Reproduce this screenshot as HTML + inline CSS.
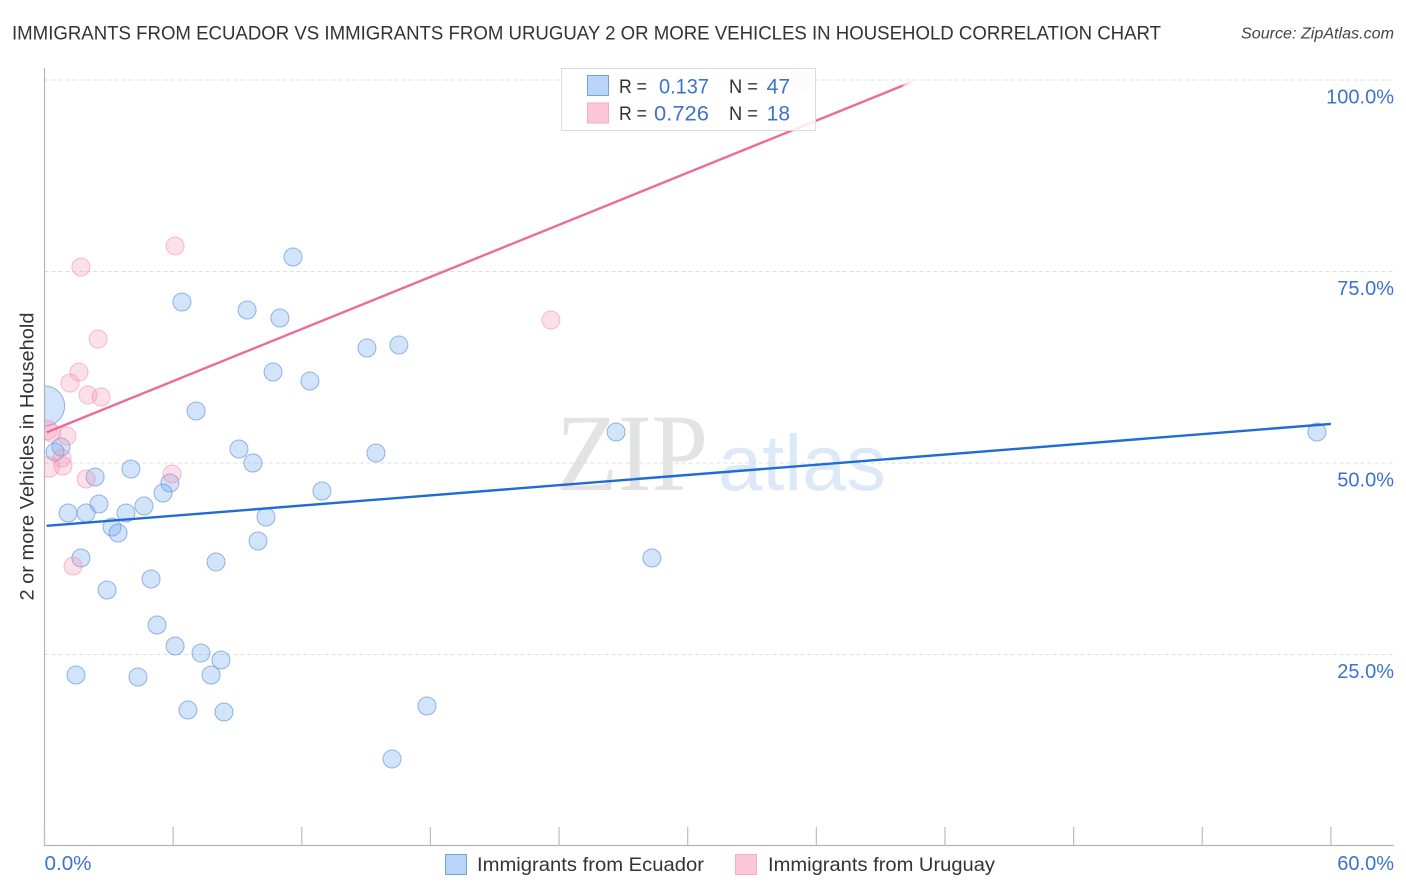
<!DOCTYPE html>
<html lang="en">
<head>
<meta charset="utf-8">
<title>Immigrants from Ecuador vs Immigrants from Uruguay correlation chart</title>
<style>
html,body{margin:0;padding:0;background:#fff;width:1406px;height:892px;overflow:hidden}
svg{display:block;font-family:"Liberation Sans",Arial,sans-serif}
</style>
</head>
<body>
<svg id="chart" xmlns="http://www.w3.org/2000/svg" width="1406" height="892" viewBox="0 0 1406 892">
  <defs>
    <clipPath id="plot-clip"><rect x="44.5" y="60" width="1350" height="786"/></clipPath>
    <linearGradient id="pink-fade" gradientUnits="userSpaceOnUse" x1="902" y1="0" x2="913" y2="0">
      <stop offset="0" stop-color="#ec6b9a" stop-opacity="1"/>
      <stop offset="0.15" stop-color="#ec6b9a" stop-opacity="0.45"/>
      <stop offset="1" stop-color="#ec6b9a" stop-opacity="0"/>
    </linearGradient>
  </defs>
  <rect width="1406" height="892" fill="#fff"/>
  <text x="12" y="39.5" font-size="19.5" fill="#333" textLength="1149" lengthAdjust="spacingAndGlyphs">IMMIGRANTS FROM ECUADOR VS IMMIGRANTS FROM URUGUAY 2 OR MORE VEHICLES IN HOUSEHOLD CORRELATION CHART</text>
  <text x="1241" y="38.5" font-size="15.5" font-style="italic" fill="#444" textLength="153" lengthAdjust="spacingAndGlyphs">Source: ZipAtlas.com</text>

  <g>
    <text x="556" y="490" font-family="'Liberation Serif',serif" font-size="110" fill="#e3e3e3" textLength="152" lengthAdjust="spacingAndGlyphs">ZIP</text>
    <text x="718" y="490" font-size="79" fill="#dde9f9" textLength="168" lengthAdjust="spacingAndGlyphs">atlas</text>
  </g>

  <g id="grid"></g>
  <g id="axes">
    <line x1="44.5" y1="68" x2="44.5" y2="846" stroke="#b4b4b4" stroke-width="1.2"/>
    <line x1="44" y1="845.5" x2="1394" y2="845.5" stroke="#b4b4b4" stroke-width="1.2"/>
  </g>
  <g id="x-ticks"></g>
  <g id="y-labels"></g>
  <g id="x-labels"></g>
  <text transform="translate(33.5,456.5) rotate(-90)" font-size="19" fill="#333" text-anchor="middle" textLength="288" lengthAdjust="spacingAndGlyphs">2 or more Vehicles in Household</text>

  <g clip-path="url(#plot-clip)">
    <g id="points-ecuador"></g>
    <g id="points-uruguay"></g>
    <g id="lines"></g>
  </g>

  <g>
    <rect x="561.5" y="68.5" width="254" height="62" fill="#fff" fill-opacity="0.85" stroke="#dcdcdc" stroke-width="1"/>
    <rect x="587.5" y="75.5" width="21" height="20" fill="#b9d4f6" stroke="#6fa3db" stroke-width="1"/>
    <rect x="587.5" y="103" width="21" height="20" fill="#fcc6d9" stroke="#f5aac5" stroke-width="1"/>
    <text x="619" y="93" font-size="19" fill="#333" textLength="28" lengthAdjust="spacingAndGlyphs">R =</text>
    <text x="659" y="93.5" font-size="21" fill="#3d72d0" textLength="50" lengthAdjust="spacingAndGlyphs">0.137</text>
    <text x="729" y="93" font-size="19" fill="#333" textLength="29" lengthAdjust="spacingAndGlyphs">N =</text>
    <text x="790" y="93.5" font-size="21" fill="#3d72d0" text-anchor="end">47</text>
    <text x="619" y="120" font-size="19" fill="#333" textLength="28" lengthAdjust="spacingAndGlyphs">R =</text>
    <text x="654" y="120.5" font-size="21" fill="#3d72d0" textLength="55" lengthAdjust="spacingAndGlyphs">0.726</text>
    <text x="729" y="120" font-size="19" fill="#333" textLength="29" lengthAdjust="spacingAndGlyphs">N =</text>
    <text x="790" y="120.5" font-size="21" fill="#3d72d0" text-anchor="end">18</text>
  </g>

  <g>
    <g>
      <rect x="445.5" y="854.5" width="21" height="20" fill="#b9d4f6" stroke="#6fa3db" stroke-width="1"/>
      <text x="477" y="871" font-size="19.5" fill="#333" textLength="227" lengthAdjust="spacingAndGlyphs">Immigrants from Ecuador</text>
    </g>
    <g>
      <rect x="735.5" y="854.5" width="21" height="20" fill="#fcc6d9" stroke="#f5aac5" stroke-width="1"/>
      <text x="768" y="871" font-size="19.5" fill="#333" textLength="227" lengthAdjust="spacingAndGlyphs">Immigrants from Uruguay</text>
    </g>
  </g>
</svg>
<script>
var xTickValues = [0, 6, 12, 18, 24, 30, 36, 42, 48, 54, 60];
var xTickLabels = ["0.0%", "60.0%"];
var yTickValues = [25, 50, 75, 100];
var yTickLabels = ["25.0%", "50.0%", "75.0%", "100.0%"];

var ecuadorX = [11.59, 6.41, 9.45, 10.98, 15.04, 16.53, 10.66, 12.38, 7.07, 15.46, 9.07, 9.72, 26.66, 59.35, 4.03, 2.36, 0.77, 0.49, 5.85, 5.53, 12.94, 4.64, 2.54, 1.10, 1.94, 3.80, 10.33, 3.15, 3.43, 9.96, 1.70, 8.00, 28.33, 4.97, 2.92, 5.25, 6.09, 7.30, 8.23, 7.77, 1.47, 4.36, 6.69, 8.37, 17.84, 16.21, 0.0];
var ecuadorY = [76.89, 71.02, 69.97, 68.93, 65.01, 65.40, 61.88, 60.70, 56.79, 51.31, 51.83, 50.0, 54.05, 54.05, 49.22, 48.17, 52.09, 51.44, 47.39, 46.08, 46.34, 44.39, 44.65, 43.47, 43.47, 43.47, 42.95, 41.64, 40.86, 39.82, 37.60, 37.08, 37.60, 34.86, 33.42, 28.85, 26.11, 25.20, 24.28, 22.32, 22.32, 22.06, 17.75, 17.49, 18.28, 11.36, 57.44];
var ecuadorWeight = [1, 1, 1, 1, 1, 1, 1, 1, 1, 1, 1, 1, 1, 1, 1, 1, 1, 1, 1, 1, 1, 1, 1, 1, 1, 1, 1, 1, 1, 1, 1, 1, 1, 1, 1, 1, 1, 1, 1, 1, 1, 1, 1, 1, 1, 1, 5];

var uruguayX = [35.28, 6.09, 1.70, 2.50, 23.62, 1.61, 1.19, 2.03, 2.64, 0.35, 0.12, 1.05, 0.82, 0.86, 0.21, 1.94, 5.95, 1.33];
var uruguayY = [100, 78.33, 75.59, 66.19, 68.67, 61.88, 60.44, 58.88, 58.62, 53.92, 54.31, 53.52, 50.65, 49.61, 49.48, 47.91, 48.56, 36.55];
var uruguayWeight = [1, 1, 1, 1, 1, 1, 1, 1, 1, 1, 1.2, 1, 1, 1, 1.3, 1, 1, 1];

var ecuadorTrendX = [0.1, 60];
var ecuadorTrendY = [41.8, 55.1];
var uruguayTrendX = [0.1, 40.5];
var uruguayTrendY = [54.0, 99.8];

var SVG_NS = "http://www.w3.org/2000/svg";
function xScale(v) { return 44.5 + v * 21.44; }
function yScale(v) { return 846 - v * 7.66; }
function rScale(w) { return 9 * Math.sqrt(w); }
function make(tag, attrs, parent) {
  var el = document.createElementNS(SVG_NS, tag);
  for (var k in attrs) el.setAttribute(k, attrs[k]);
  parent.appendChild(el);
  return el;
}

var grid = document.getElementById("grid");
yTickValues.forEach(function (v) {
  var el = make("line", { x1: 44.5, x2: 1394, y1: yScale(v), y2: yScale(v), stroke: "#dedede", "stroke-width": 1, "stroke-dasharray": "4 3" }, grid);
  
  
});

var xTicks = document.getElementById("x-ticks");
xTickValues.forEach(function (v) {
  var el = make("line", { x1: xScale(v), x2: xScale(v), y1: 827, y2: 846, stroke: "#bcbcbc", "stroke-width": 1.2 }, xTicks);
  
  
});

var yLabels = document.getElementById("y-labels");
yTickValues.forEach(function (v, i) {
  var el = make("text", { x: 1394, y: yScale(v) + 23.5, "font-size": 20, fill: "#3d72d0", "text-anchor": "end" }, yLabels);
  el.textContent = yTickLabels[i];
  
  
});

var xLabels = document.getElementById("x-labels");
var xLabelFirst = make("text", { x: xScale(xTickValues[0]), y: 870, "font-size": 20, fill: "#3d72d0", textLength: 47, lengthAdjust: "spacingAndGlyphs" }, xLabels);
xLabelFirst.textContent = xTickLabels[0];


var xLabelLast = make("text", { x: 1394, y: 870, "font-size": 20, fill: "#3d72d0", "text-anchor": "end" }, xLabels);
xLabelLast.textContent = xTickLabels[1];



var ecuadorGroup = document.getElementById("points-ecuador");
ecuadorX.forEach(function (v, i) {
  var el = make("circle", { cx: xScale(v), cy: yScale(ecuadorY[i]), r: rScale(ecuadorWeight[i]), fill: "#6aa5ec", "fill-opacity": 0.3, stroke: "#5f8fdc", "stroke-opacity": 0.65, "stroke-width": 1 }, ecuadorGroup);
  
  
});

var uruguayGroup = document.getElementById("points-uruguay");
uruguayX.forEach(function (v, i) {
  var el = make("circle", { cx: xScale(v), cy: yScale(uruguayY[i]), r: rScale(uruguayWeight[i]), fill: "#f58fb0", "fill-opacity": 0.28, stroke: "#f08aab", "stroke-opacity": 0.55, "stroke-width": 1 }, uruguayGroup);
  
  
});

var lines = document.getElementById("lines");
var ecuadorLine = make("line", { x1: xScale(ecuadorTrendX[0]), y1: yScale(ecuadorTrendY[0]), x2: xScale(ecuadorTrendX[1]), y2: yScale(ecuadorTrendY[1]), stroke: "#1f6dd2", "stroke-width": 2.4 }, lines);


var uruguayLine = make("line", { x1: xScale(uruguayTrendX[0]), y1: yScale(uruguayTrendY[0]), x2: xScale(uruguayTrendX[1]), y2: yScale(uruguayTrendY[1]), stroke: "#ec6b9a", "stroke-width": 2.4 }, lines);
uruguayLine.setAttribute('stroke', 'url(#pink-fade-line)');


var fade = document.getElementById("pink-fade");
fade.setAttribute('id', 'pink-fade-line');
fade.setAttribute('x1', '46');
fade.setAttribute('x2', '913');
var stops = fade.getElementsByTagName('stop');
stops[0].setAttribute('offset', String((902 - 46) / (913 - 46)));
stops[1].setAttribute('offset', String((904 - 46) / (913 - 46)));
var solidStop = stops[0].cloneNode();
solidStop.setAttribute('offset', '0');
fade.insertBefore(solidStop, stops[0]);
</script>
</body>
</html>
